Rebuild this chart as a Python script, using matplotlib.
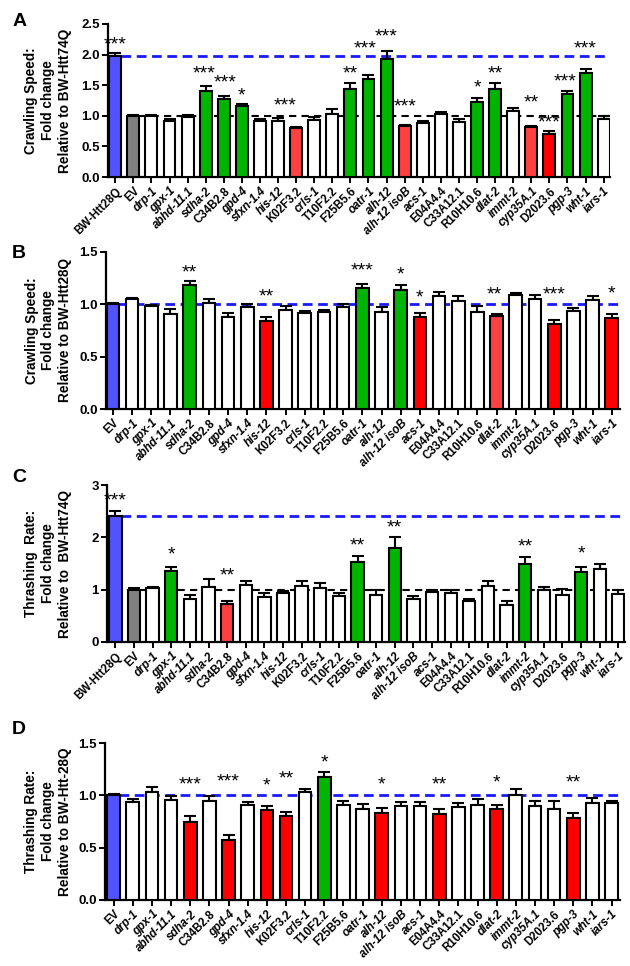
import numpy as np
import matplotlib
matplotlib.use('Agg')
import matplotlib.pyplot as plt

plt.rcParams['font.family'] = ['Liberation Sans', 'DejaVu Sans']
plt.rcParams['font.weight'] = 'bold'

# ---- data ----
genes = ['drp-1', 'gpx-1', 'abhd-11.1', 'sdha-2', 'C34B2.8', 'gpd-4', 'sfxn-1.4',
         'his-12', 'K02F3.2', 'crls-1', 'T10F2.2', 'F25B5.6', 'oatr-1', 'alh-12',
         'alh-12 isoB', 'acs-1', 'E04A4.4', 'C33A12.1', 'R10H10.6', 'dlat-2',
         'immt-2', 'cyp35A.1', 'D2023.6', 'pgp-3', 'wht-1', 'iars-1']

cats_a = ['BW-Htt28Q', 'EV'] + genes
vals_a = [1.97, 1.00, 1.00, 0.92, 0.98, 1.41, 1.27, 1.16, 0.92, 0.91, 0.80, 0.93,
          1.03, 1.43, 1.60, 1.93, 0.83, 0.88, 1.03, 0.90, 1.23, 1.44, 1.08, 0.81,
          0.71, 1.35, 1.70, 0.94]
err_a = [0.05, 0.01, 0.01, 0.03, 0.04, 0.07, 0.05, 0.04, 0.02, 0.05, 0.02, 0.05,
         0.08, 0.10, 0.07, 0.13, 0.02, 0.03, 0.03, 0.05, 0.06, 0.10, 0.04, 0.03,
         0.04, 0.06, 0.06, 0.06]
green_a = ['sdha-2', 'C34B2.8', 'gpd-4', 'F25B5.6', 'oatr-1', 'alh-12', 'R10H10.6',
           'dlat-2', 'pgp-3', 'wht-1']
red_a = ['D2023.6']
lred_a = ['K02F3.2', 'alh-12 isoB', 'cyp35A.1']
stars_a = [('BW-Htt28Q', '***', 2.16, 0), ('sdha-2', '***', 1.69, -0.1),
           ('C34B2.8', '***', 1.53, 0.1), ('gpd-4', '*', 1.33, 0),
           ('his-12', '***', 1.16, 0.4), ('F25B5.6', '**', 1.68, 0),
           ('oatr-1', '***', 2.09, -0.2), ('alh-12', '***', 2.28, 0),
           ('alh-12 isoB', '***', 1.15, 0), ('R10H10.6', '*', 1.46, 0),
           ('dlat-2', '**', 1.68, 0), ('cyp35A.1', '**', 1.21, 0),
           ('D2023.6', '***', 0.88, 0), ('pgp-3', '***', 1.56, -0.15),
           ('wht-1', '***', 2.09, 0)]

cats_b = ['EV'] + genes
vals_b = [1.00, 1.05, 0.98, 0.91, 1.18, 1.01, 0.88, 0.975, 0.845, 0.95, 0.915,
          0.925, 0.97, 1.16, 0.925, 1.14, 0.88, 1.08, 1.035, 0.93, 0.89, 1.09,
          1.05, 0.815, 0.94, 1.04, 0.87]
err_b = [0.01, 0.015, 0.013, 0.05, 0.04, 0.04, 0.04, 0.025, 0.03, 0.03, 0.025,
         0.025, 0.03, 0.03, 0.045, 0.04, 0.035, 0.04, 0.045, 0.05, 0.02, 0.02,
         0.04, 0.04, 0.025, 0.04, 0.035]
green_b = ['sdha-2', 'oatr-1', 'alh-12 isoB']
red_b = ['his-12', 'acs-1', 'D2023.6', 'iars-1']
lred_b = ['dlat-2']
stars_b = [('sdha-2', '**', 1.30, 0), ('his-12', '**', 1.07, 0),
           ('oatr-1', '***', 1.32, 0), ('alh-12 isoB', '*', 1.28, 0),
           ('acs-1', '*', 1.06, 0), ('dlat-2', '**', 1.09, -0.1),
           ('D2023.6', '***', 1.09, 0), ('iars-1', '*', 1.10, 0)]

cats_c = ['BW-Htt28Q', 'EV'] + genes
vals_c = [2.40, 1.00, 1.03, 1.35, 0.83, 1.05, 0.72, 1.09, 0.86, 0.93, 1.07, 1.04,
          0.88, 1.53, 0.90, 1.80, 0.83, 0.95, 0.94, 0.78, 1.07, 0.71, 1.50, 1.00,
          0.89, 1.34, 1.39, 0.92]
err_c = [0.10, 0.04, 0.02, 0.08, 0.06, 0.15, 0.06, 0.08, 0.08, 0.05, 0.09, 0.08,
         0.05, 0.11, 0.10, 0.20, 0.04, 0.04, 0.05, 0.04, 0.10, 0.08, 0.13, 0.06,
         0.12, 0.10, 0.11, 0.08]
green_c = ['gpx-1', 'F25B5.6', 'alh-12', 'immt-2', 'pgp-3']
red_c = []
lred_c = ['C34B2.8']
stars_c = [('BW-Htt28Q', '***', 2.70, 0), ('gpx-1', '*', 1.67, 0),
           ('C34B2.8', '**', 1.27, 0), ('F25B5.6', '**', 1.83, 0),
           ('alh-12', '**', 2.17, 0), ('immt-2', '**', 1.81, 0),
           ('pgp-3', '*', 1.68, 0)]

cats_d = ['EV'] + genes
vals_d = [1.005, 0.94, 1.03, 0.96, 0.75, 0.95, 0.575, 0.905, 0.86, 0.80, 1.03,
          1.175, 0.905, 0.87, 0.83, 0.895, 0.90, 0.825, 0.885, 0.91, 0.87, 1.00,
          0.90, 0.87, 0.785, 0.93, 0.925]
err_d = [0.01, 0.025, 0.05, 0.03, 0.05, 0.04, 0.05, 0.035, 0.04, 0.04, 0.03,
         0.045, 0.04, 0.045, 0.05, 0.04, 0.035, 0.04, 0.04, 0.055, 0.035, 0.065,
         0.045, 0.075, 0.05, 0.04, 0.025]
green_d = ['T10F2.2']
red_d = ['sdha-2', 'gpd-4', 'his-12', 'K02F3.2', 'alh-12', 'E04A4.4', 'dlat-2', 'pgp-3']
lred_d = []
stars_d = [('sdha-2', '***', 1.10, 0), ('gpd-4', '***', 1.13, 0),
           ('his-12', '*', 1.09, 0), ('K02F3.2', '**', 1.16, 0),
           ('T10F2.2', '*', 1.31, 0), ('alh-12', '*', 1.10, 0),
           ('E04A4.4', '**', 1.10, 0), ('dlat-2', '*', 1.12, 0),
           ('pgp-3', '**', 1.12, 0)]

BLUE = '#5252ff'
GREY = '#808080'
GREEN = '#00b400'
RED = '#ff0000'
LRED = '#ff4040'

W, H = 630, 966
fig = plt.figure(figsize=(W / 100, H / 100), dpi=100)


def panel(box, cats, vals, errs, greens, reds, lreds, stars, ylim, yticks, ytl,
          ylabel, letter, letter_pos, blue_ref, xlim):
    left, top, right, bottom = box
    ax = fig.add_axes([left / W, 1 - bottom / H, (right - left) / W, (bottom - top) / H])
    x = np.arange(len(cats))
    colors = []
    for c in cats:
        if c == 'BW-Htt28Q' or (c == 'EV' and cats[0] == 'EV'):
            colors.append(BLUE)
        elif c == 'EV':
            colors.append(GREY)
        elif c in greens:
            colors.append(GREEN)
        elif c in reds:
            colors.append(RED)
        elif c in lreds:
            colors.append(LRED)
        else:
            colors.append('white')
    ax.bar(x, vals, width=0.66, color=colors, edgecolor='black', linewidth=1.5, zorder=3)
    ax.errorbar(x, vals, yerr=[np.zeros(len(vals)), errs], fmt='none', ecolor='black',
                elinewidth=1.5, capsize=4, capthick=1.5, zorder=2)
    # reference lines
    ref_val = vals[0]
    ax.plot([0.3, xlim[1]], [ref_val, ref_val], color='#1a1aff', lw=2.0,
            dashes=(3.5, 2), zorder=1)
    if blue_ref:
        ev = cats.index('EV')
        ax.plot([ev + 0.3, xlim[1]], [vals[ev], vals[ev]], color='black', lw=1.5,
                dashes=(3.5, 2.5), zorder=1)
    for cat, s, yy, dx in stars:
        ax.text(cats.index(cat) + dx, yy, s, ha='center', va='center', fontsize=14,
                fontweight='normal', zorder=5)
    ax.set_xlim(*xlim)
    ax.set_ylim(*ylim)
    ax.set_yticks(yticks)
    ax.set_yticklabels(ytl, fontsize=9.5, fontweight='bold')
    ax.set_xticks(x)
    ax.set_xticklabels(cats, rotation=45, ha='right', rotation_mode='anchor',
                       fontsize=8.3, fontweight='bold')
    for lab in ax.get_xticklabels():
        t = lab.get_text()
        if t[0].islower():
            lab.set_fontstyle('italic')
    for sp in ['top', 'right']:
        ax.spines[sp].set_visible(False)
    for sp in ['left', 'bottom']:
        ax.spines[sp].set_linewidth(1.6)
    ax.tick_params(axis='both', width=1.4, length=4, pad=2)
    ax.set_ylabel(ylabel, fontsize=9.8, fontweight='bold', linespacing=1.25)
    ax.yaxis.set_label_coords((72 - left) / (right - left), 0.5)
    fig.text(letter_pos[0] / W, 1 - letter_pos[1] / H, letter, fontsize=14,
             fontweight='bold', ha='center', va='center')
    return ax


panel((108, 24, 610, 177), cats_a, vals_a, err_a, green_a, red_a, lred_a, stars_a,
      (0, 2.5), [0, 0.5, 1.0, 1.5, 2.0, 2.5], ['0.0', '0.5', '1.0', '1.5', '2.0', '2.5'],
      'Crawling Speed:\nFold change\nRelative to BW-Htt74Q', 'A', (20, 22), True,
      (-0.4, 27.35))
panel((106, 252, 620, 409), cats_b, vals_b, err_b, green_b, red_b, lred_b, stars_b,
      (0, 1.5), [0, 0.5, 1.0, 1.5], ['0.0', '0.5', '1.0', '1.5'],
      'Crawling Speed:\nFold change\nRelative to BW-Htt28Q', 'B', (19, 254), False,
      (-0.36, 26.43))
panel((107, 485, 625, 642), cats_c, vals_c, err_c, green_c, red_c, lred_c, stars_c,
      (0, 3), [0, 1, 2, 3], ['0', '1', '2', '3'],
      'Thrashing  Rate:\nFold change\nRelative to  BW-Htt74Q', 'C', (19, 478), True,
      (-0.45, 27.36))
panel((105, 743, 620, 900), cats_d, vals_d, err_d, green_d, red_d, lred_d, stars_d,
      (0, 1.5), [0, 0.5, 1.0, 1.5], ['0.0', '0.5', '1.0', '1.5'],
      'Thrashing Rate:\nFold change\nRelative to BW-Htt-28Q', 'D', (19, 729), False,
      (-0.45, 26.44))

fig.savefig('out.png', dpi=100)
